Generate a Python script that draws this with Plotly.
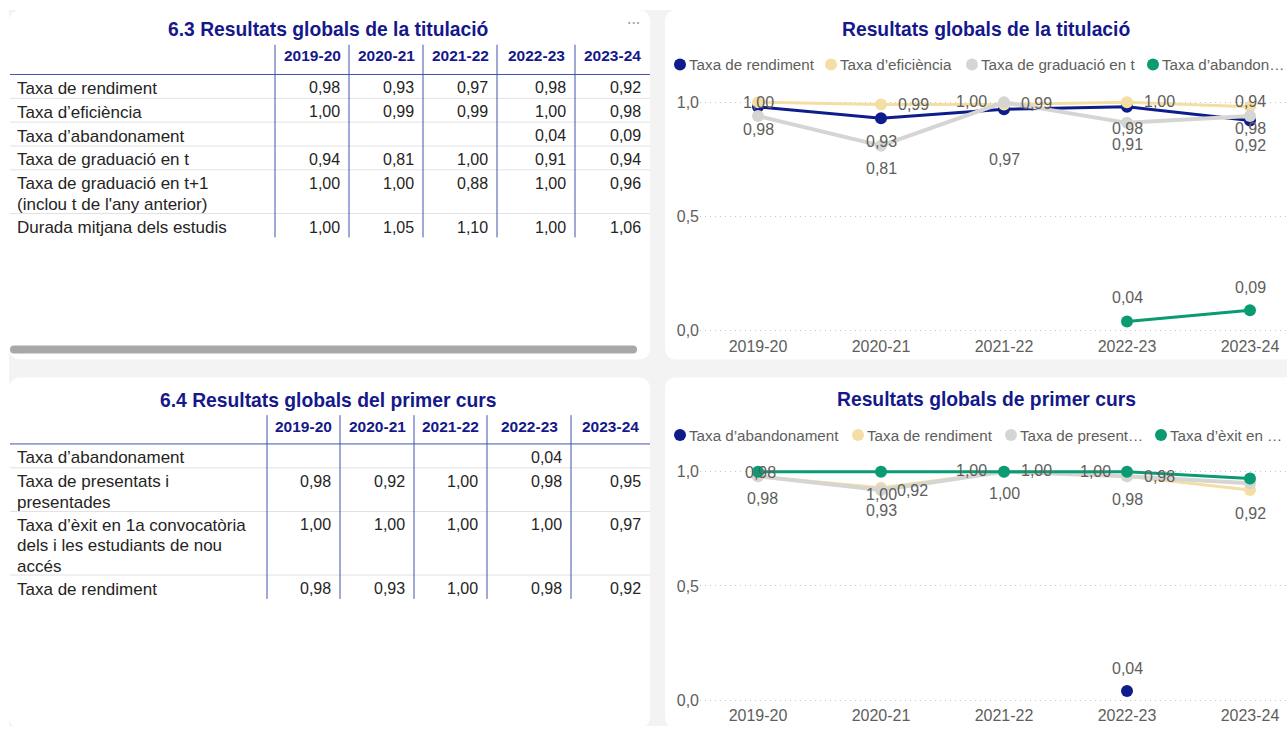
import plotly.graph_objects as go

W, H = 1287, 731

YEARS = ["2019-20", "2020-21", "2021-22", "2022-23", "2023-24"]

# 6.3 Resultats globals de la titulació
RENDIMENT = [0.98, 0.93, 0.97, 0.98, 0.92]
EFICIENCIA = [1.00, 0.99, 0.99, 1.00, 0.98]
ABANDONAMENT = [None, None, None, 0.04, 0.09]
GRADUACIO_T = [0.94, 0.81, 1.00, 0.91, 0.94]
GRADUACIO_T1 = [1.00, 1.00, 0.88, 1.00, 0.96]
DURADA = [1.00, 1.05, 1.10, 1.00, 1.06]

# 6.4 Resultats globals del primer curs
PC_ABANDONAMENT = [None, None, None, 0.04, None]
PC_PRESENTATS = [0.98, 0.92, 1.00, 0.98, 0.95]
PC_EXIT = [1.00, 1.00, 1.00, 1.00, 0.97]
PC_RENDIMENT = [0.98, 0.93, 1.00, 0.98, 0.92]

TABLE_63 = [
    (["Taxa de rendiment"], RENDIMENT),
    (["Taxa d’eficiència"], EFICIENCIA),
    (["Taxa d’abandonament"], ABANDONAMENT),
    (["Taxa de graduació en t"], GRADUACIO_T),
    (["Taxa de graduació en t+1", "(inclou t de l'any anterior)"], GRADUACIO_T1),
    (["Durada mitjana dels estudis"], DURADA),
]
TABLE_64 = [
    (["Taxa d’abandonament"], PC_ABANDONAMENT),
    (["Taxa de presentats i", "presentades"], PC_PRESENTATS),
    (["Taxa d’èxit en 1a convocatòria", "dels i les estudiants de nou", "accés"], PC_EXIT),
    (["Taxa de rendiment"], PC_RENDIMENT),
]

FONT = "Liberation Sans, Arial, sans-serif"
TITLE_C = "#15188A"
NAVY = "#0F1C8C"
BEIGE = "#F3DFA4"
LGREY = "#D5D5D3"
GREEN = "#0B9B73"
SEP_BLUE = "#4553AE"
ROW_LINE = "#E2E2E2"
TEXT_C = "#252423"
AXIS_C = "#605E5C"
PAGE_BG = "#F3F3F3"


def fx(x):
    return x / W


def fy(y):
    return 1 - y / H


def fmt(v):
    return "" if v is None else f"{v:.2f}".replace(".", ",")


shapes = []
annotations = []


def rrect(x0, y0, x1, y1, r, color):
    p = (f"M {fx(x0 + r)},{fy(y0)} L {fx(x1 - r)},{fy(y0)} "
         f"Q {fx(x1)},{fy(y0)} {fx(x1)},{fy(y0 + r)} "
         f"L {fx(x1)},{fy(y1 - r)} Q {fx(x1)},{fy(y1)} {fx(x1 - r)},{fy(y1)} "
         f"L {fx(x0 + r)},{fy(y1)} Q {fx(x0)},{fy(y1)} {fx(x0)},{fy(y1 - r)} "
         f"L {fx(x0)},{fy(y0 + r)} Q {fx(x0)},{fy(y0)} {fx(x0 + r)},{fy(y0)} Z")
    shapes.append(dict(type="path", path=p, xref="paper", yref="paper",
                       fillcolor=color, line=dict(width=0), layer="below"))


def line(x0, y0, x1, y1, color, width=1):
    shapes.append(dict(type="line", xref="paper", yref="paper",
                       x0=fx(x0), y0=fy(y0), x1=fx(x1), y1=fy(y1),
                       line=dict(color=color, width=width)))


def text(x, y, s, size, color, xanchor="left", yanchor="top", bold=False):
    annotations.append(dict(
        x=fx(x), y=fy(y), xref="paper", yref="paper",
        text=f"<b>{s}</b>" if bold else s, showarrow=False,
        xanchor=xanchor, yanchor=yanchor, align="left",
        font=dict(family=FONT, size=size, color=color)))


# page background and cards
shapes.append(dict(type="rect", xref="paper", yref="paper",
                   x0=fx(9), y0=fy(731), x1=1, y1=fy(10),
                   fillcolor=PAGE_BG, line=dict(width=0), layer="below"))
for box in [(9, 10, 650, 362), (665, 10, 1300, 362),
            (9, 380, 650, 733), (665, 380, 1300, 733)]:
    rrect(*box, 12, "white")

LINE_STEP = 20.5


def draw_table(title, title_y, header_y, header_line_y, vtop, edges, rows):
    text(328, title_y, title, 19.3, TITLE_C, "center", "middle", bold=True)
    for i, yr in enumerate(YEARS):
        text((edges[i] + edges[i + 1]) / 2, header_y, yr, 15.5, TITLE_C,
             "center", "middle", bold=True)
    line(10, header_line_y, 650, header_line_y, SEP_BLUE)
    top = header_line_y
    for r, (label_lines, vals) in enumerate(rows):
        n = len(label_lines)
        h = 24 + 20 * (n - 1)
        for j, part in enumerate(label_lines):
            text(15, top + 2.5 + LINE_STEP * j, part, 17, TEXT_C)
        for i, v in enumerate(vals):
            if v is not None:
                text(edges[i + 1] - 7, top + 3, fmt(v), 16, TEXT_C, "right")
        top += h
        if r < len(rows) - 1:
            line(10, top, 650, top, ROW_LINE)
    for e in edges[:-1]:
        line(e, vtop, e, top, SEP_BLUE)


draw_table("6.3 Resultats globals de la titulació", 30, 56, 75, 45,
           [275, 349, 423, 497, 575, 650], TABLE_63)
draw_table("6.4 Resultats globals del primer curs", 403, 429, 447, 418,
           [267, 340, 414, 487, 571, 650], TABLE_64)

# horizontal scrollbar and menu dots of the first table
rrect(10, 348, 637, 356, 4, "#A8A8A8")
text(634, 23, "• • •", 7, "#9A9A9A", "center", "middle")

# line charts
PX_PER_UNIT = 230
X0_PX, STEP_PX = 758, 123
PLOT_LEFT = 700

charts = [
    dict(title="Resultats globals de la titulació", title_y=30, legend_y=65,
         zero=333,
         series=[
             ("Taxa de rendiment", RENDIMENT, NAVY, 3,
              [(0, -23), (0, -23), (0, -50), (0, -22), (0, -25)]),
             ("Taxa d’eficiència", EFICIENCIA, BEIGE, 3,
              [(0, 0), (32, 0), (32, 1), (32, 1), (0, -22)]),
             ("Taxa de graduació en t", GRADUACIO_T, LGREY, 4,
              [None, (0, -23), (-33, 1), (0, -22), (0, 15)]),
             ("Taxa d’abandonament", ABANDONAMENT, GREEN, 3,
              [None, None, None, (0, 24), (0, 23)]),
         ],
         legend=[(680, "Taxa de rendiment"), (831, "Taxa d’eficiència"),
                 (972, "Taxa de graduació en t"), (1153, "Taxa d’abandon…")]),
    dict(title="Resultats globals de primer curs", title_y=402, legend_y=438,
         zero=705,
         series=[
             ("Taxa d’abandonament", PC_ABANDONAMENT, NAVY, 3,
              [None, None, None, (0, 23), None]),
             ("Taxa de rendiment", PC_RENDIMENT, BEIGE, 3,
              [(2, 4), (0, -23), (0, -22), (32, 0), (0, -23)]),
             ("Taxa de presentats i presentades", PC_PRESENTATS, LGREY, 4,
              [(4, -22), (31, 0), (32, 1), (0, -23), None]),
             ("Taxa d’èxit en 1a convocatòria", PC_EXIT, GREEN, 3,
              [None, (0, -23), (-33, 1), (-32, 0), None]),
         ],
         legend=[(680, "Taxa d’abandonament"), (858, "Taxa de rendiment"),
                 (1011, "Taxa de present…"), (1161, "Taxa d’èxit en …")]),
]

fig = go.Figure()
layout_axes = {}
for k, ch in enumerate(charts, start=1):
    xa = "x" if k == 1 else f"x{k}"
    ya = "y" if k == 1 else f"y{k}"
    zero = ch["zero"]
    bottom_px, top_px = zero + 4, zero - PX_PER_UNIT - 14
    layout_axes["xaxis" if k == 1 else f"xaxis{k}"] = dict(
        domain=[fx(PLOT_LEFT), 1], anchor=ya, type="category",
        categoryorder="array", categoryarray=YEARS,
        range=[(PLOT_LEFT - X0_PX) / STEP_PX, (W - X0_PX) / STEP_PX],
        showgrid=False, zeroline=False, showline=False, ticks="",
        tickfont=dict(family=FONT, size=16, color=AXIS_C), fixedrange=True)
    layout_axes["yaxis" if k == 1 else f"yaxis{k}"] = dict(
        domain=[fy(bottom_px), fy(top_px)], anchor=xa,
        range=[(zero - bottom_px) / PX_PER_UNIT, (zero - top_px) / PX_PER_UNIT],
        tickvals=[0, 0.5, 1], tickformat=".1f", showgrid=True,
        gridcolor="#C6C6C6", griddash="1px,4px", gridwidth=1,
        zeroline=False, showline=False, ticks="",
        tickfont=dict(family=FONT, size=16, color=AXIS_C), fixedrange=True)

    text(986, ch["title_y"], ch["title"], 19.3, TITLE_C, "center", "middle", bold=True)

    for (name, vals, color, width, shifts), (lx, ltxt) in zip(ch["series"], ch["legend"]):
        fig.add_trace(go.Scatter(
            x=YEARS, y=vals, name=name, mode="lines+markers",
            line=dict(color=color, width=width),
            marker=dict(color=color, size=12),
            xaxis=xa, yaxis=ya, hoverinfo="skip", connectgaps=False))
        for yr, v, sh in zip(YEARS, vals, shifts):
            if v is None or sh is None:
                continue
            annotations.append(dict(
                x=yr, y=v, xref=xa, yref=ya, text=fmt(v), showarrow=False,
                xshift=sh[0], yshift=sh[1],
                font=dict(family=FONT, size=16, color=AXIS_C)))
        ly = ch["legend_y"]
        shapes.append(dict(type="circle", xref="paper", yref="paper",
                           x0=fx(lx - 6), x1=fx(lx + 6), y0=fy(ly + 6), y1=fy(ly - 6),
                           fillcolor=color, line=dict(width=0)))
        text(lx + 7, ly, ltxt, 15.2, AXIS_C, "left", "middle")

fig.update_layout(
    width=W, height=H, autosize=False,
    margin=dict(l=0, r=0, t=0, b=0, pad=0),
    paper_bgcolor="white", plot_bgcolor="rgba(0,0,0,0)",
    separators=",.", showlegend=False,
    shapes=shapes, annotations=annotations,
    **layout_axes)

fig.write_html("out.html", config={"displayModeBar": False})
